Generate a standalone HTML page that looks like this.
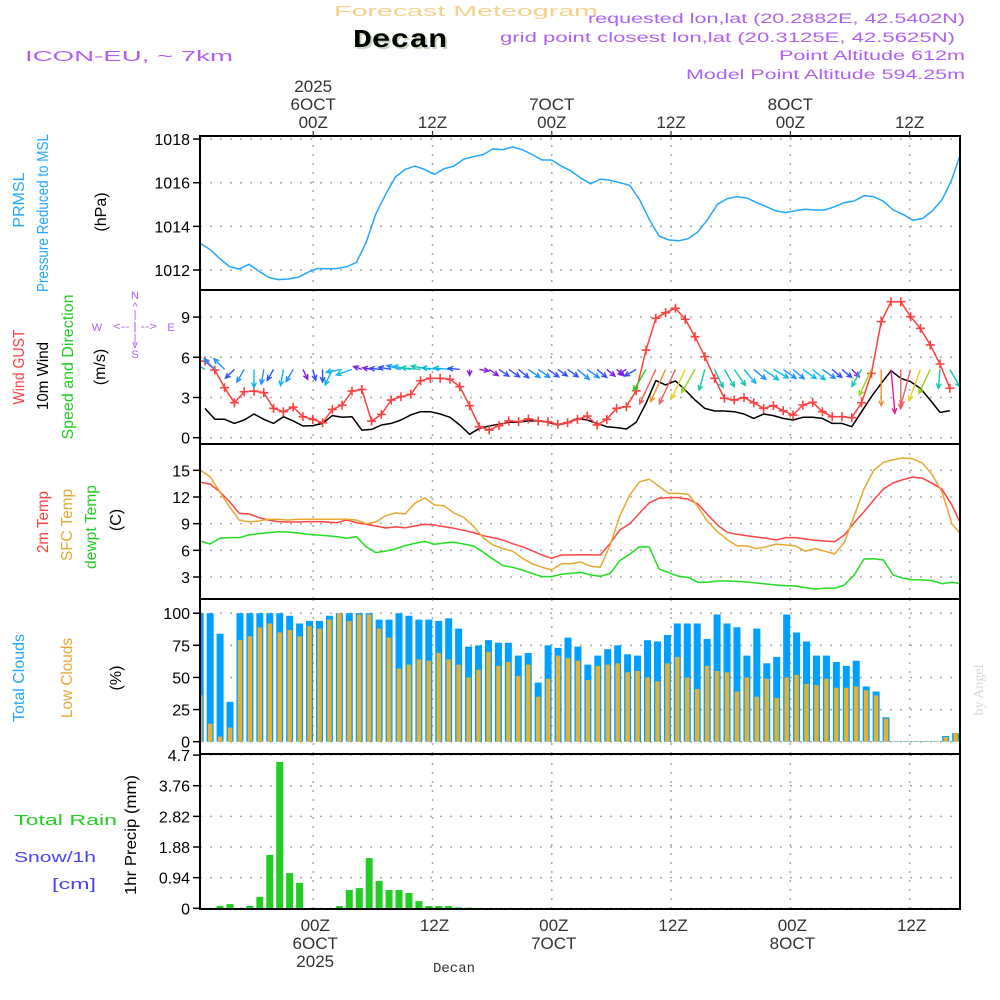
<!DOCTYPE html>
<html><head><meta charset="utf-8"><title>Forecast Meteogram - Decan</title>
<style>
html,body{margin:0;padding:0;background:#fff;}
svg{display:block;font-family:"Liberation Sans",sans-serif;}
</style></head>
<body>
<svg id="chart" width="1000" height="1000" viewBox="0 0 1000 1000" xmlns="http://www.w3.org/2000/svg">
<rect x="0" y="0" width="1000" height="1000" fill="#fff"/>
<g>
<text x="334" y="16" fill="#f5d08a" font-size="15" textLength="264" lengthAdjust="spacingAndGlyphs">Forecast Meteogram</text>
<text x="355" y="49" fill="#c8d8c0" font-size="26" font-weight="bold" font-family="Liberation Mono, monospace" textLength="94" lengthAdjust="spacingAndGlyphs">Decan</text>
<text x="353" y="47" fill="#000" font-size="26" font-weight="bold" font-family="Liberation Mono, monospace" textLength="94" lengthAdjust="spacingAndGlyphs">Decan</text>
<text x="25" y="61" fill="#b060f0" font-size="15" textLength="208" lengthAdjust="spacingAndGlyphs">ICON-EU, ~ 7km</text>
<text x="965" y="23" fill="#b060f0" font-size="13.5" text-anchor="end" textLength="377" lengthAdjust="spacingAndGlyphs">requested lon,lat (20.2882E, 42.5402N)</text>
<text x="955" y="42" fill="#b060f0" font-size="13.5" text-anchor="end" textLength="455" lengthAdjust="spacingAndGlyphs">grid point closest lon,lat (20.3125E, 42.5625N)</text>
<text x="965" y="60" fill="#b060f0" font-size="13.5" text-anchor="end" textLength="186" lengthAdjust="spacingAndGlyphs">Point Altitude 612m</text>
<text x="965" y="79" fill="#b060f0" font-size="13.5" text-anchor="end" textLength="279" lengthAdjust="spacingAndGlyphs">Model Point Altitude 594.25m</text>
</g>
<g font-size="16">
<text transform="translate(24,200) rotate(-90)" text-anchor="middle" fill="#22a8ff">PRMSL</text>
<text transform="translate(48,213) rotate(-90)" text-anchor="middle" fill="#22a8ff" textLength="158" lengthAdjust="spacingAndGlyphs">Pressure Reduced to MSL</text>
<text transform="translate(106,212) rotate(-90)" text-anchor="middle" fill="#000">(hPa)</text>
<text transform="translate(24,367) rotate(-90)" text-anchor="middle" fill="#ff4040" textLength="75" lengthAdjust="spacingAndGlyphs">Wind GUST</text>
<text transform="translate(48,376) rotate(-90)" text-anchor="middle" fill="#000" textLength="68" lengthAdjust="spacingAndGlyphs">10m Wind</text>
<text transform="translate(73,367) rotate(-90)" text-anchor="middle" fill="#22cc22" textLength="145" lengthAdjust="spacingAndGlyphs">Speed and Direction</text>
<text transform="translate(105,367) rotate(-90)" text-anchor="middle" fill="#000">(m/s)</text>
<text transform="translate(48,522) rotate(-90)" text-anchor="middle" fill="#ff4040" textLength="62" lengthAdjust="spacingAndGlyphs">2m Temp</text>
<text transform="translate(72,525) rotate(-90)" text-anchor="middle" fill="#e8a830" textLength="72" lengthAdjust="spacingAndGlyphs">SFC Temp</text>
<text transform="translate(96,527) rotate(-90)" text-anchor="middle" fill="#22cc22" textLength="84" lengthAdjust="spacingAndGlyphs">dewpt Temp</text>
<text transform="translate(121,520) rotate(-90)" text-anchor="middle" fill="#000">(C)</text>
<text transform="translate(24,678) rotate(-90)" text-anchor="middle" fill="#22a8ff" textLength="88" lengthAdjust="spacingAndGlyphs">Total Clouds</text>
<text transform="translate(72,678) rotate(-90)" text-anchor="middle" fill="#e8a830" textLength="80" lengthAdjust="spacingAndGlyphs">Low Clouds</text>
<text transform="translate(121,678) rotate(-90)" text-anchor="middle" fill="#000">(%)</text>
<text transform="translate(136,835) rotate(-90)" text-anchor="middle" fill="#000" textLength="120" lengthAdjust="spacingAndGlyphs">1hr Precip (mm)</text>
<text x="14" y="825" fill="#22cc22" font-size="15" textLength="103" lengthAdjust="spacingAndGlyphs">Total    Rain</text>
<text x="14" y="862" fill="#4444ff" font-size="15" textLength="82" lengthAdjust="spacingAndGlyphs">Snow/1h</text>
<text x="52" y="889" fill="#4444ff" font-size="15" textLength="44" lengthAdjust="spacingAndGlyphs">[cm]</text>
<text transform="translate(983,690) rotate(-90)" text-anchor="middle" fill="#d8d8d8" font-family="Liberation Serif, serif" font-size="14">by Angel</text>
</g>
<g fill="#b060f0" font-size="11" text-anchor="middle">
<text x="135" y="299">N</text><text x="135" y="310">^</text><text x="135" y="318">|</text>
<text x="97" y="331">W</text><text x="135" y="330" textLength="44" lengthAdjust="spacingAndGlyphs">&lt;-- | --&gt;</text><text x="171" y="331">E</text>
<text x="135" y="342">|</text><text x="135" y="348">v</text><text x="135" y="358">S</text>
</g>
<g id="plots"></g>
</svg>
<script>
// ---- data ----
const timeTickLabels = ["00Z","12Z","00Z","12Z","00Z","12Z"];
const dayLabels = ["6OCT","","7OCT","","8OCT",""];
const yearLabels = ["2025","","","","",""];
const pressure = [1013.23,1012.94,1012.53,1012.15,1012.04,1012.26,1011.95,1011.66,1011.56,1011.59,1011.66,1011.89,1012.07,1012.06,1012.07,1012.15,1012.35,1013.26,1014.58,1015.47,1016.26,1016.61,1016.76,1016.61,1016.38,1016.64,1016.76,1017.08,1017.19,1017.29,1017.55,1017.51,1017.64,1017.51,1017.29,1017.04,1017.04,1016.76,1016.53,1016.21,1015.95,1016.17,1016.11,1016.0,1015.88,1015.24,1014.33,1013.56,1013.38,1013.34,1013.44,1013.75,1014.33,1015.01,1015.27,1015.36,1015.3,1015.09,1014.9,1014.71,1014.63,1014.72,1014.78,1014.75,1014.75,1014.9,1015.09,1015.16,1015.41,1015.36,1015.15,1014.75,1014.55,1014.28,1014.36,1014.71,1015.21,1016.15,1017.45];
const pressureTicks = [1012,1014,1016,1018];
const gust = [5.72,5.05,3.73,2.61,3.43,3.48,3.36,2.19,1.94,2.28,1.57,1.37,1.12,2.11,2.43,3.48,3.6,1.24,1.74,2.81,3.06,3.24,4.25,4.43,4.43,4.36,3.81,2.39,0.82,0.57,0.90,1.25,1.19,1.40,1.25,1.19,1.00,1.12,1.37,1.62,0.95,1.37,2.19,2.31,3.51,6.54,8.91,9.33,9.66,8.84,7.54,6.05,4.43,2.94,2.81,2.99,2.61,2.19,2.39,2.01,1.69,2.44,2.64,1.94,1.57,1.57,1.49,2.61,4.8,8.66,10.15,10.15,9.03,8.16,6.92,5.5,3.69];
const wind10m = [2.19,1.37,1.37,1.07,1.32,1.77,1.37,1.07,1.57,1.25,0.87,0.90,1.07,1.65,1.52,1.57,0.57,0.62,0.95,1.07,1.32,1.70,1.94,1.94,1.77,1.52,0.95,0.25,0.70,0.87,1.0,1.15,1.15,1.25,1.25,1.15,0.95,1.12,1.44,1.32,1.07,0.82,0.75,0.65,1.15,2.57,4.26,3.94,4.24,3.56,2.81,2.19,1.99,1.99,1.94,1.77,1.44,1.77,1.65,1.44,1.32,1.52,1.52,1.44,1.07,1.07,0.82,1.94,3.06,4.05,5.0,4.43,4.18,3.68,2.81,1.89,2.01];
const windDirTo = [300,315,315,225,210,180,190,210,190,210,155,165,180,205,260,250,290,280,275,280,285,280,275,280,275,275,275,180,100,125,125,125,130,125,125,125,125,125,130,125,130,130,130,240,240,210,205,205,205,205,210,195,155,150,145,140,130,125,120,125,130,125,130,125,130,130,135,210,205,180,175,180,195,200,205,185,150];
const windTicks = [0,3,6,9];
const temp2m = [13.65,13.46,12.6,11.48,10.16,10.09,9.68,9.41,9.23,9.19,9.19,9.23,9.23,9.19,9.11,9.41,9.11,8.93,8.74,8.51,8.63,8.55,8.74,8.93,8.85,8.66,8.48,8.25,7.99,7.65,7.43,7.16,6.75,6.41,5.96,5.48,5.1,5.48,5.48,5.51,5.51,5.48,6.79,8.29,9.0,10.16,11.33,11.85,11.93,11.93,11.74,11.21,9.98,8.85,8.03,7.8,7.65,7.5,7.35,7.16,7.43,7.43,7.28,7.13,7.05,6.98,7.73,9.11,10.35,11.66,12.9,13.58,13.95,14.25,14.1,13.54,12.86,11.1,8.78];
const tempSfc = [15.0,14.3,12.6,10.9,9.4,9.2,9.3,9.5,9.5,9.4,9.5,9.5,9.5,9.5,9.5,9.5,9.4,9.0,9.2,9.9,10.2,10.1,11.3,11.9,11.1,11.0,10.2,9.7,8.7,7.4,6.6,6.2,5.9,5.1,4.5,4.1,3.8,4.5,4.5,4.7,4.2,4.1,6.6,9.9,12.2,13.7,14.0,13.2,12.4,12.4,12.3,10.9,9.2,8.1,7.2,6.5,6.5,6.2,6.4,6.7,6.6,6.5,5.9,6.2,5.9,5.6,6.9,9.9,12.9,15.0,15.9,16.2,16.4,16.3,15.8,14.5,12.6,9.0,7.7];
const dewpt = [7.05,6.71,7.35,7.43,7.43,7.73,7.88,7.99,8.1,8.06,7.95,7.8,7.73,7.65,7.54,7.35,7.54,6.41,5.74,5.93,6.15,6.53,6.79,7.01,6.68,6.83,6.9,6.71,6.49,5.78,5.03,4.28,4.09,3.79,3.41,3.04,3.04,3.3,3.41,3.53,3.23,3.08,3.41,4.84,5.55,6.41,6.38,3.9,3.49,3.08,2.96,2.4,2.4,2.55,2.55,2.51,2.44,2.33,2.21,2.1,2.03,1.99,1.8,1.65,1.73,1.73,2.1,3.23,5.03,5.06,4.91,3.23,2.85,2.7,2.66,2.59,2.25,2.4,2.25];
const tempTicks = [3,6,9,12,15];
const totalClouds = [100,100,84,31,100,100,100,100,100,98,92,94,94,98,100,100,100,100,95,95,100,98,95,95,94,96,88,74,75,79,77,77,67,69,46,75,73,81,74,60,67,72,75,68,67,79,78,83,92,92,92,80,99,92,89,67,88,61,66,99,85,78,67,67,62,59,63,43,39,19,0.4,0.4,0.4,0.4,0.4,4.4,6.8];
const lowClouds = [36,14,4,11,79,82,89,92,85,87,82,90,88,95,100,94,99,99,88,81,57,60,64,63,69,64,60,50,56,70,59,62,51,60,35,49,67,65,63,48,59,60,61,54,55,50,47,61,66,50,41,59,55,54,39,50,35,49,34,50,52,45,44,49,42,42,43,40,36,18,0.3,0.3,0.3,0.3,0.3,3.6,6.8];
const cloudTicks = [0,25,50,75,100];
const rain = [0,0,0.07,0.13,0,0.07,0.35,1.64,4.49,1.08,0.78,0,0,0,0.07,0.56,0.62,1.54,0.84,0.56,0.56,0.47,0.22,0.07,0.07,0.07,0.03,0.02,0.01,0.01,0.01,0.01,0.01,0.01,0.01,0.01,0.01,0.01,0.01,0.01,0.01,0.01,0.01,0.01,0.01,0.01,0.01,0.01,0.01,0.01,0.01,0.01,0.01,0.01,0.01,0.01,0.01,0.01,0.01,0.01,0.01,0.01,0.01,0.01,0.01,0.01,0.01,0.01,0.01,0.01,0.01,0.01,0.01,0.01,0.01,0.01];
const rainTicks = ["0","0.94","1.88","2.82","3.76","4.7"];

// ---- scales ----
const X0 = 200.2, HPX = 9.94, LEFT = 200, RIGHT = 960;
const FIRST_TICK = 11.37;
const SAMPLE_STEP = 0.982;
const WIND_OFF = 0.48, WIND_STEP = 0.986;
function xAt(h){ return X0 + HPX*h; }
function yP(v){ return 182.7 + (1016 - v)*21.83; }
function yW(v){ return 437.7 - 13.4*v; }
function yT(v){ return 577 - (v - 3)*8.89; }
function yC(v){ return 741.7 - 1.285*v; }
function yR(v){ return 908.3 - 32.6*v; }

const NS = "http://www.w3.org/2000/svg";
const root = document.getElementById('plots');
function mk(tag, attrs, parent){
  const e = document.createElementNS(NS, tag);
  for (const k in attrs) e.setAttribute(k, attrs[k]);
  (parent || root).appendChild(e);
  return e;
}
const defs = mk('defs', {});
const cp = mk('clipPath', {id:'clipPlot'}, defs);
mk('rect', {x:LEFT, y:136, width:RIGHT-LEFT, height:773}, cp);

function panel(name, top, bottom, ticks, yf, labels){
  const g = mk('g', {});
  
  
  ticks.forEach((t, i) => {
    const y = yf(t);
    const gl = mk('line', {x1:LEFT, x2:RIGHT, y1:y, y2:y, stroke:'#aaa', 'stroke-width':1.5, 'stroke-dasharray':'2,8'}, g);
    
    
    const tk = mk('line', {x1:LEFT-7, x2:LEFT, y1:y, y2:y, stroke:'#000', 'stroke-width':1.5}, g);
    
    
    const tx = mk('text', {x:LEFT-10, y:y+6, 'text-anchor':'end', 'font-size':16, fill:'#000'}, g);
    
    
    tx.textContent = labels ? labels[i] : String(t);
  });
  for (let i = 0; i < timeTickLabels.length; i++){
    const x = xAt(FIRST_TICK + 12*i);
    const vl = mk('line', {x1:x, x2:x, y1:top, y2:bottom, stroke:'#aaa', 'stroke-width':1.5, 'stroke-dasharray':'2,7'}, g);
    
    
  }
  return g;
}
panel('pressure', 136, 290, pressureTicks, yP);
panel('wind', 290, 444, windTicks, yW);
panel('temperature', 444, 599, tempTicks, yT);
panel('clouds', 599, 754, cloudTicks, yC);
panel('precip', 754, 909, rainTicks.map(Number), yR, rainTicks);

const marks = mk('g', {'clip-path':'url(#clipPlot)'});



function line(arr, tf, yf, color, name, w){
  const pts = arr.map((v, i) => xAt(tf(i)).toFixed(1) + ',' + yf(v).toFixed(1)).join(' ');
  const pl = mk('polyline', {points:pts, fill:'none', stroke:color, 'stroke-width':w || 1.5, 'stroke-linejoin':'round'}, marks);
  
  
}
const tS = i => i*SAMPLE_STEP;
const tW = i => WIND_OFF + i*WIND_STEP;

totalClouds.forEach((v, k) => {
  const x = xAt(k);
  const r = mk('rect', {x:x-3.5, y:yC(v), width:7, height:yC(0)-yC(v), fill:'#00a0ff'}, marks);
  
  
});
lowClouds.forEach((v, k) => {
  const x = xAt(k);
  const r = mk('rect', {x:x-2.2, y:yC(v), width:4.4, height:yC(0)-yC(v), fill:'#e8b030'}, marks);
  
  
});
rain.forEach((v, k) => {
  if (v <= 0) return;
  const x = xAt(k);
  const r = mk('rect', {x:x-3.5, y:yR(v), width:7, height:yR(0)-yR(v), fill:'#22cc22'}, marks);
  
  
});
line(pressure, tS, yP, '#22a8ff', 'pressure-line');
line(temp2m, tS, yT, '#ff4444', 't2m-line');
line(tempSfc, tS, yT, '#e8a830', 'sfc-temp-line');
line(dewpt, tS, yT, '#22dd22', 'dewpoint-line');
line(wind10m, tW, yW, '#000', 'wind-speed-line');
line(gust, tW, yW, '#ff4040', 'gust-line');
gust.forEach((v, i) => {
  const x = xAt(tW(i)), y = yW(v);
  const m = mk('path', {d:`M${x-4.5},${y}H${x+4.5}M${x},${y-4.5}V${y+4.5}`, stroke:'#ff4040', 'stroke-width':1.6}, marks);
  
  
});
function speedColor(s){
  if (s < 0.9) return '#8020e0';
  if (s < 1.2) return '#3050ff';
  if (s < 1.5) return '#2090ff';
  if (s < 1.8) return '#10b8e8';
  if (s < 2.2) return '#10c8b0';
  if (s < 2.7) return '#20d020';
  if (s < 3.2) return '#a0d020';
  if (s < 3.7) return '#e8d020';
  if (s < 4.15) return '#f09030';
  if (s < 4.6) return '#f06060';
  return '#f01890';
}
windDirTo.forEach((d, i) => {
  const s = wind10m[i];
  const L = 4 + 8*s;
  const x = xAt(tW(i)), y = yW(5.1);
  const a = d*Math.PI/180;
  const ux = Math.sin(a), uy = -Math.cos(a);
  const hx = x + ux*L, hy = y + uy*L;
  const hl = 5.5, ha = 0.45;
  const bx = -ux, by = -uy;
  const l1x = hx + hl*(bx*Math.cos(ha) - by*Math.sin(ha)), l1y = hy + hl*(bx*Math.sin(ha) + by*Math.cos(ha));
  const l2x = hx + hl*(bx*Math.cos(-ha) - by*Math.sin(-ha)), l2y = hy + hl*(bx*Math.sin(-ha) + by*Math.cos(-ha));
  const p = mk('path', {d:`M${x.toFixed(1)},${y.toFixed(1)}L${hx.toFixed(1)},${hy.toFixed(1)}M${l1x.toFixed(1)},${l1y.toFixed(1)}L${hx.toFixed(1)},${hy.toFixed(1)}L${l2x.toFixed(1)},${l2y.toFixed(1)}`, stroke:speedColor(s), 'stroke-width':1.4, fill:'none'}, marks);
  
  
});

[[136,290],[290,444],[444,599],[599,754],[754,909]].forEach(pp => {
  const f = mk('rect', {x:LEFT, y:pp[0], width:RIGHT-LEFT, height:pp[1]-pp[0], fill:'none', stroke:'#000', 'stroke-width':2});
  
  
});

const axg = mk('g', {'font-size':17, fill:'#333', 'text-anchor':'middle'});


for (let i = 0; i < timeTickLabels.length; i++){
  const x = xAt(FIRST_TICK + 12*i);
  const tt = mk('line', {x1:x, x2:x, y1:131, y2:136, stroke:'#333', 'stroke-width':1.2}, axg);
  
  
  const a = mk('text', {x:x, y:128}, axg);
  
  
  a.textContent = timeTickLabels[i];
  const b = mk('text', {x:x+2, y:931}, axg);
  
  
  b.textContent = timeTickLabels[i];
  if (dayLabels[i]){
    const c = mk('text', {x:x, y:110}, axg);
    
    
    c.textContent = dayLabels[i];
    const d = mk('text', {x:x+2, y:949}, axg);
    
    
    d.textContent = dayLabels[i];
  }
  if (yearLabels[i]){
    const e = mk('text', {x:x, y:92}, axg);
    
    
    e.textContent = yearLabels[i];
    const f = mk('text', {x:x+2, y:967}, axg);
    
    
    f.textContent = yearLabels[i];
  }
}
const xt = mk('text', {x:454, y:972, 'text-anchor':'middle', 'font-size':14, fill:'#333', 'font-family':'Liberation Mono, monospace'});


xt.textContent = 'Decan';
</script>
</body></html>
